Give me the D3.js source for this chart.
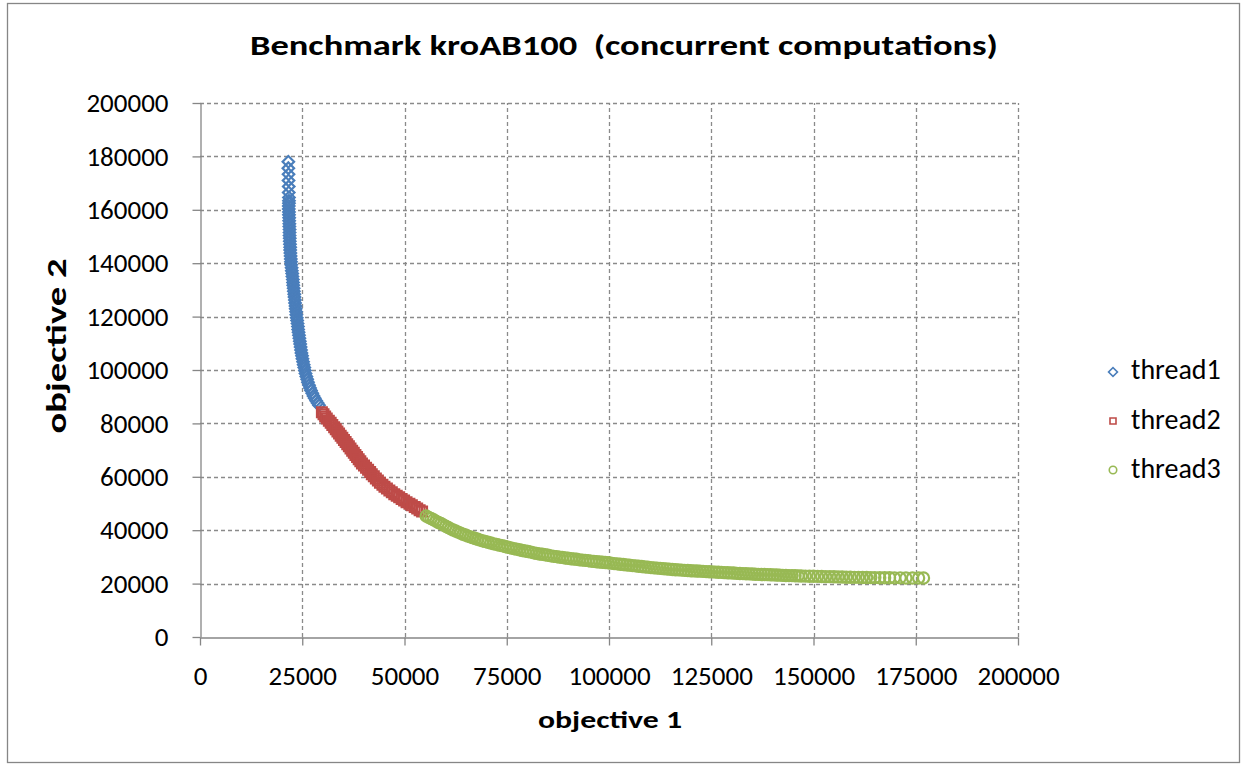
<!DOCTYPE html>
<html>
<head>
<meta charset="utf-8">
<script src="https://cdnjs.cloudflare.com/ajax/libs/d3/7.8.5/d3.min.js"></script>
<style>
body { margin: 0; background: #fff; }
text { font-family: Carlito, Calibri, Lato, sans-serif; fill: #000; }
</style>
</head>
<body>
<script>
//Series names
var seriesNames = ["thread1", "thread2", "thread3"];

//Points: [objective 1, objective 2]
var thread1 = [
	[21600,178000],[21600,175600],[21650,173300],[21650,171000],[21700,168700],[21700,166500],[21750,164600],[21750,163400],
	[21750,162500],[21700,161400],[21700,160300],[21750,159200],[21750,158100],[21800,157000],[21800,155900],[21850,154800],
	[21850,153700],[21900,152600],[21900,151500],[21900,150400],[21950,149300],[21950,148200],[22000,147100],[22050,146000],
	[22050,144900],[22100,143800],[22150,142700],[22200,141600],[22250,140500],[22300,139400],[22400,138300],[22450,137200],
	[22550,136100],[22600,135000],[22700,133900],[22750,132800],[22800,131700],[22900,130600],[22950,129500],[23050,128400],
	[23100,127300],[23200,126200],[23250,125100],[23350,124000],[23400,122900],[23500,121800],[23550,120700],[23650,119600],
	[23750,118500],[23850,117400],[23950,116300],[24000,115200],[24100,114100],[24200,113000],[24300,111900],[24400,110800],
	[24500,109700],[24600,108600],[24700,107500],[24800,106400],[24950,105300],[25050,104200],[25200,103100],[25350,102000],
	[25500,100900],[25650,99800],[25800,98700],[26000,97600],[26200,96500],[26400,95400],[26650,94300],[26900,93300],
	[27150,92300],[27450,91300],[27750,90300],[28050,89400],[28400,88500],[28750,87600],[29100,86800]
];
var thread2 = [
	[29800,84200],[30200,83400],[30600,82600],[31000,81800],[31500,81000],[31950,80200],[32350,79400],[32800,78600],
	[33200,77800],[33600,77000],[34000,76200],[34400,75400],[34800,74600],[35200,73800],[35600,73000],[36000,72200],
	[36400,71400],[36800,70600],[37200,69800],[37600,69000],[38000,68200],[38400,67400],[38800,66600],[39200,65800],
	[39600,65000],[40100,64200],[40600,63400],[41100,62600],[41600,61800],[42000,61000],[42500,60200],[43000,59400],
	[43500,58600],[44000,57800],[44600,57000],[45100,56300],[45700,55600],[46300,54900],[46900,54200],[47500,53500],
	[48100,52900],[48700,52300],[49300,51700],[49900,51100],[50500,50500],[51200,49900],[51800,49300],[52500,48700],
	[53100,48100],[53700,47500],[54300,47000]
];
var thread3 = [
	[55300,45300],[55900,44800],[56500,44400],[57100,43900],[57700,43400],[58300,42900],[58900,42500],[59500,42000],
	[60100,41500],[60700,41000],[61300,40500],[61900,40100],[62500,39700],[63100,39300],[63700,38900],[64300,38500],
	[64900,38200],[65500,37800],[66100,37500],[66700,37200],[67300,36900],[67900,36600],[68500,36300],[69100,36000],
	[69700,35800],[70400,35500],[71100,35200],[71800,34900],[72500,34700],[73200,34400],[73900,34200],[74600,33900],
	[75300,33600],[76000,33400],[76700,33100],[77400,32900],[78100,32700],[78800,32400],[79500,32200],[80200,32000],
	[80900,31800],[81600,31500],[82300,31300],[83000,31100],[83700,31000],[84400,30800],[85100,30600],[85800,30400],
	[86500,30200],[87200,30100],[87900,29900],[88600,29800],[89300,29600],[90000,29500],[90700,29300],[91400,29200],
	[92100,29100],[92800,28900],[93500,28800],[94200,28700],[94900,28600],[95600,28400],[96300,28300],[97000,28200],
	[97700,28100],[98400,28000],[99100,27900],[99800,27800],[100500,27650],[101250,27500],[102000,27400],[102750,27250],
	[103500,27150],[104250,27000],[105000,26900],[105750,26750],[106500,26650],[107250,26500],[108000,26400],[108750,26250],
	[109500,26150],[110250,26000],[111000,25900],[111750,25800],[112500,25700],[113250,25600],[114000,25500],[114750,25400],
	[115500,25300],[116250,25200],[117000,25150],[117750,25050],[118500,24950],[119250,24900],[120000,24800],[120750,24750],
	[121500,24700],[122250,24650],[123000,24600],[123750,24500],[124500,24450],[125250,24400],[126000,24300],[126750,24250],
	[127500,24200],[128250,24100],[129000,24050],[129750,24000],[130500,23950],[131250,23850],[132000,23800],[132750,23750],
	[133500,23700],[134250,23650],[135000,23600],[135750,23500],[136500,23450],[137250,23400],[138000,23400],[138750,23350],
	[139500,23300],[140250,23250],[141000,23200],[141750,23150],[142500,23100],[143250,23050],[144000,23000],[144750,23000],
	[145500,22950],[146250,22900],[147000,22850],[148000,22800],[149000,22750],[150000,22750],[151000,22700],[152000,22650],
	[153000,22600],[154000,22600],[155000,22550],[156000,22500],[157000,22450],[158000,22400],[159000,22400],[160000,22350],
	[161000,22350],[162000,22300],[163000,22300],[164000,22250],[165000,22250],[166200,22200],[167400,22200],[168600,22200],
	[169800,22150],[171200,22150],[172600,22100],[174200,22100],[175700,22100],[176900,22100]
];

//Tick values
var xTicks = [0, 25000, 50000, 75000, 100000, 125000, 150000, 175000, 200000];
var yTicks = [0, 20000, 40000, 60000, 80000, 100000, 120000, 140000, 160000, 180000, 200000];

//Width and height
var w = 1245;
var h = 767;

var colors = ["#4A7EBB", "#BE4B48", "#98B954"];
var gridColor = "#8A8A8A";

var svg = d3.select("body")
	.append("svg")
	.attr("width", w)
	.attr("height", h);

//Chart border
svg.append("rect")
	.attr("x", 7.5)
	.attr("y", 3.5)
	.attr("width", 1232)
	.attr("height", 759)
	.style("fill", "#fff")
	.style("stroke", "#868686")
	.style("stroke-width", 1.3);

//Scales
var xScale = d3.scaleLinear()
	.domain([0, 200000])
	.range([200, 1018]);
var yScale = d3.scaleLinear()
	.domain([0, 200000])
	.range([637, 103]);

//Gridlines
svg.append("g").selectAll("line")
	.data(yTicks.slice(1))
	.enter()
	.append("line")
	.attr("x1", xScale(0))
	.attr("x2", xScale(200000))
	.attr("y1", function(d){ return Math.round(yScale(d)) + 0.5; })
	.attr("y2", function(d){ return Math.round(yScale(d)) + 0.5; })
	.style("stroke", gridColor)
	.style("stroke-width", 1.3)
	.style("stroke-dasharray", "4,3");

svg.append("g").selectAll("line")
	.data(xTicks.slice(1))
	.enter()
	.append("line")
	.attr("x1", function(d){ return Math.round(xScale(d)) + 0.5; })
	.attr("x2", function(d){ return Math.round(xScale(d)) + 0.5; })
	.attr("y1", yScale(0))
	.attr("y2", yScale(200000))
	.style("stroke", gridColor)
	.style("stroke-width", 1.3)
	.style("stroke-dasharray", "4,3");

//Axes
var yAxis = d3.axisLeft(yScale)
	.tickValues(yTicks)
	.tickFormat(d3.format("d"))
	.tickSize(8)
	.tickSizeOuter(0)
	.tickPadding(24);
var xAxis = d3.axisBottom(xScale)
	.tickValues(xTicks)
	.tickFormat(d3.format("d"))
	.tickSize(8)
	.tickSizeOuter(0)
	.tickPadding(20);

svg.append("g")
	.attr("transform", "translate(200.5,0)")
	.call(yAxis);
svg.append("g")
	.attr("transform", "translate(0,637.5)")
	.call(xAxis);

// Styling
svg.selectAll(".domain, .tick line")
	.style("stroke", "#868686")
	.style("stroke-width", 1.3);
svg.selectAll(".tick text")
	.style("font-family", "Carlito, Calibri, Lato, sans-serif")
	.style("font-size", "27px")
	.style("fill", "#000");

//Markers
var shapes = [
	d3.symbol().type(d3.symbolSquare).size(66),
	d3.symbol().type(d3.symbolSquare).size(96),
	d3.symbol().type(d3.symbolCircle).size(98)
];
var rotations = [45, 0, 0];

[thread1, thread2, thread3].forEach(function(data, k){
	svg.append("g").selectAll("path")
		.data(data)
		.enter()
		.append("path")
		.attr("d", shapes[k])
		.attr("transform", function(d){
			return "translate(" + xScale(d[0]) + "," + yScale(d[1]) + ") rotate(" + rotations[k] + ")";
		})
		.style("fill", "none")
		.style("stroke", colors[k])
		.style("stroke-width", 2.2);
});

//Title
svg.append("text")
	.attr("x", 624)
	.attr("y", 55)
	.attr("text-anchor", "middle")
	.attr("textLength", 748)
	.attr("lengthAdjust", "spacingAndGlyphs")
	.style("white-space", "pre")
	.style("font-size", "28px")
	.style("font-weight", "bold")
	.text("Benchmark kroAB100  (concurrent computations)");

//Axis titles
svg.append("text")
	.attr("x", 610)
	.attr("y", 728)
	.attr("text-anchor", "middle")
	.attr("textLength", 144)
	.attr("lengthAdjust", "spacingAndGlyphs")
	.style("font-size", "24px")
	.style("font-weight", "bold")
	.text("objective 1");

svg.append("text")
	.attr("transform", "translate(66,346) rotate(-90)")
	.attr("text-anchor", "middle")
	.attr("textLength", 175)
	.attr("lengthAdjust", "spacingAndGlyphs")
	.style("font-size", "29px")
	.style("font-weight", "bold")
	.text("objective 2");

//Legend
var legendShapes = [
	d3.symbol().type(d3.symbolSquare).size(40),
	d3.symbol().type(d3.symbolSquare).size(36),
	d3.symbol().type(d3.symbolCircle).size(44)
];
var legend = svg.append("g");
legend.selectAll("path")
	.data(seriesNames)
	.enter()
	.append("path")
	.attr("d", function(d, i){ return legendShapes[i](); })
	.attr("transform", function(d, i){
		return "translate(1113," + (372 + i * 49) + ") rotate(" + rotations[i] + ")";
	})
	.style("fill", "none")
	.style("stroke", function(d, i){ return colors[i]; })
	.style("stroke-width", 1.6);
legend.selectAll("text")
	.data(seriesNames)
	.enter()
	.append("text")
	.attr("x", 1131)
	.attr("y", function(d, i){ return 379 + i * 49.5; })
	.style("font-size", "28px")
	.text(function(d){ return d; });
</script>
</body>
</html>
